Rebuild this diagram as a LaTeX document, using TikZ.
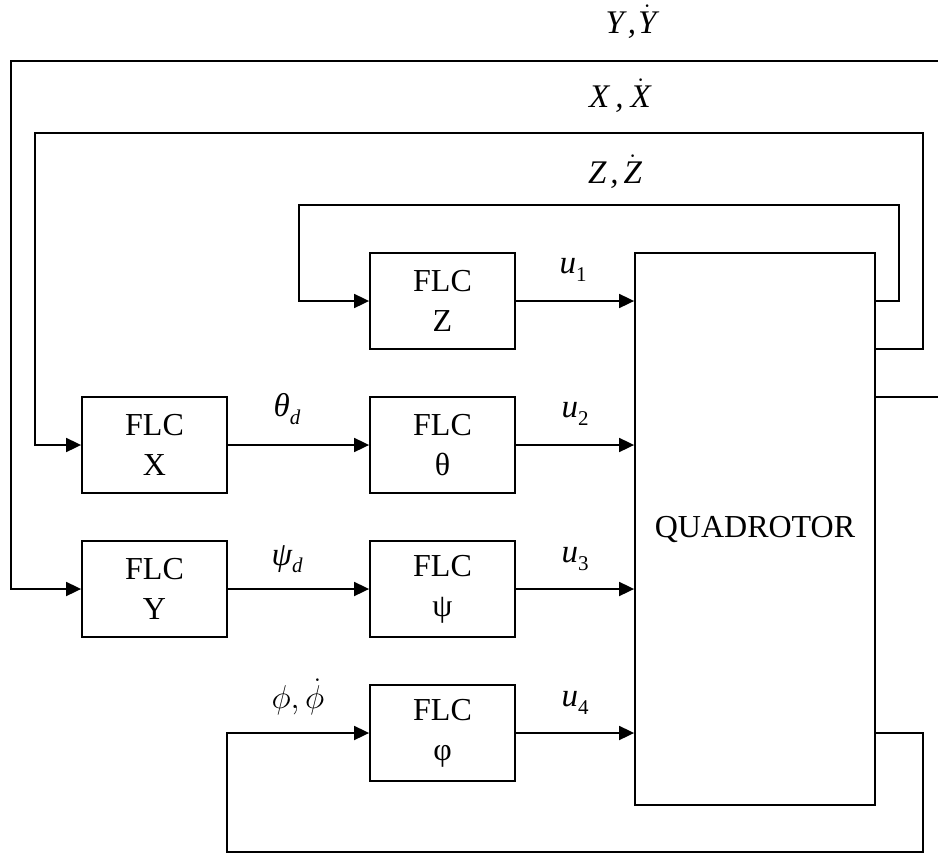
\RequirePackage{fix-cm}
\documentclass[tikz,border=0pt]{standalone}
\usepackage{fontspec}
\setmainfont{Liberation Serif}
\usetikzlibrary{arrows.meta}
\newcommand{\sbs}[1]{\raisebox{-0.22em}{\fontsize{21}{21}\selectfont\upshape #1}}
\newcommand{\dotit}[1]{\ensuremath{\dot{\hbox{\itshape #1}}}}
\begin{document}
\begin{tikzpicture}[x=1pt,y=-1pt,
  every node/.style={font=\fontsize{32}{40}\selectfont},
  blk/.style={draw, line width=1.8pt, minimum width=145pt, minimum height=96pt, inner sep=0pt, align=center},
  quadbox/.style={draw, line width=1.8pt, minimum width=240pt, minimum height=552pt, inner sep=0pt},
  wire/.style={line width=1.8pt},
  arr/.style={wire, -{Triangle[length=15pt,width=14pt]}},
  lbl/.style={inner sep=0pt, font=\fontsize{33}{40}\selectfont\itshape}]
\useasboundingbox (0,0) rectangle (938,854);
\clip (0,0) rectangle (938,854);
% blocks
\node[quadbox] (quad) at (755,529) {QUADROTOR};
\node[blk] (fz)   at (442.5,301) {FLC\\Z};
\node[blk] (fth)  at (442.5,445) {FLC\\θ};
\node[blk] (fpsi) at (442.5,589) {FLC\\ψ};
\node[blk] (fphi) at (442.5,733) {FLC\\φ};
\node[blk] (fx)   at (154.5,445) {FLC\\X};
\node[blk] (fy)   at (154.5,589) {FLC\\Y};
% forward connections
\draw[arr] (fx.east) -- (fth.west);
\draw[arr] (fy.east) -- (fpsi.west);
\draw[arr] (fz.east) -- (fz.east -| quad.west);
\draw[arr] (fth.east) -- (fth.east -| quad.west);
\draw[arr] (fpsi.east) -- (fpsi.east -| quad.west);
\draw[arr] (fphi.east) -- (fphi.east -| quad.west);
% output points on the quadrotor
\path (quad.east) ++(0,-228) coordinate (zq);
\path (quad.east) ++(0,-180) coordinate (xq);
\path (quad.east) ++(0,-132) coordinate (yq);
% corner coordinates
\coordinate (zc1) at (899,205);
\coordinate (zc2) at (299,301);
\coordinate (xc1) at (923,133);
\coordinate (xc2) at (35,445);
\coordinate (yc1) at (960,61);
\coordinate (yc2) at (11,589);
\coordinate (pc1) at (923,852);
\coordinate (pc2) at (227,733);
% feedback loops
\draw[arr] (zq) -| (zc1) -| (zc2) -- (fz.west);
\draw[arr] (xq) -| (xc1) -| (xc2) -- (fx.west);
\draw[arr] (yq) -| (yc1) -| (yc2) -- (fy.west);
\draw[arr] (quad.east |- fphi.east) -| (pc1) -| (pc2) -- (fphi.west);
% labels
\node[lbl] (ly) at (631,22) {Y\kern4pt,\kern2pt\dotit{Y}};
\node[lbl] (lx) at (620,96) {X\kern6pt,\kern7pt\dotit{X}};
\node[lbl] (lz) at (615,172) {Z\kern4pt,\kern5pt\dotit{Z}};
\node[lbl] (lu1) at (573,270) {u\sbs{1}};
\node[lbl] (lu2) at (575,414) {u\sbs{2}};
\node[lbl] (lu3) at (575,559) {u\sbs{3}};
\node[lbl] (lu4) at (575,703) {u\sbs{4}};
\node[lbl] (lth) at (287,409) {θ\sbs{\itshape d}};
\node[lbl] (lps) at (287,559) {ψ\sbs{\itshape d}};
\node[lbl] (lph) at (298,697) {$\phi,\dot{\phi}$};
\end{tikzpicture}
\end{document}
